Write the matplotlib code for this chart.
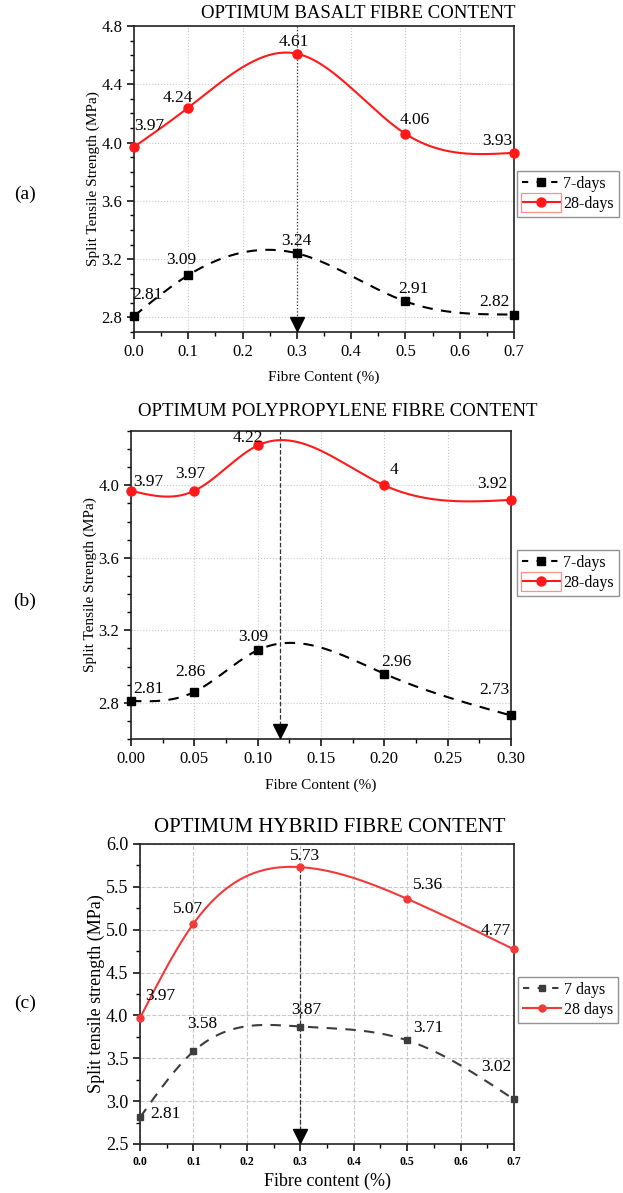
import numpy as np
import matplotlib
matplotlib.use("Agg")
import matplotlib.pyplot as plt
from matplotlib.patches import Rectangle
from matplotlib.ticker import MultipleLocator, FormatStrFormatter
from matplotlib.transforms import offset_copy

plt.rcParams["font.family"] = ["Liberation Serif", "DejaVu Serif"]

W, H, DPI = 623, 1193, 100

# ── data ─────────────────────────────────────────────────────────────────────
fibre_a = [0.0, 0.1, 0.3, 0.5, 0.7]
d7_a = [2.81, 3.09, 3.24, 2.91, 2.82]
d28_a = [3.97, 4.24, 4.61, 4.06, 3.93]

fibre_b = [0.0, 0.05, 0.10, 0.20, 0.30]
d7_b = [2.81, 2.86, 3.09, 2.96, 2.73]
d28_b = [3.97, 3.97, 4.22, 4.00, 3.92]
lbl28_b = ["3.97", "3.97", "4.22", "4", "3.92"]

fibre_c = [0.0, 0.1, 0.3, 0.5, 0.7]
d7_c = [2.81, 3.58, 3.87, 3.71, 3.02]
d28_c = [3.97, 5.07, 5.73, 5.36, 4.77]

optimum = [0.3, 0.118, 0.3]
titles = ["OPTIMUM BASALT FIBRE CONTENT",
          "OPTIMUM POLYPROPYLENE FIBRE CONTENT",
          "OPTIMUM HYBRID FIBRE CONTENT"]


def spline(x, y, num=400):
    """natural cubic spline (Origin 'Spline' connector look)"""
    x = np.asarray(x, float)
    y = np.asarray(y, float)
    n = len(x)
    h = np.diff(x)
    A = np.zeros((n, n))
    r = np.zeros(n)
    A[0, 0] = A[-1, -1] = 1
    for i in range(1, n - 1):
        A[i, i - 1] = h[i - 1]
        A[i, i] = 2 * (h[i - 1] + h[i])
        A[i, i + 1] = h[i]
        r[i] = 6 * ((y[i + 1] - y[i]) / h[i] - (y[i] - y[i - 1]) / h[i - 1])
    M = np.linalg.solve(A, r)
    xs = np.linspace(x[0], x[-1], num)
    k = np.clip(np.searchsorted(x, xs) - 1, 0, n - 2)
    hk = h[k]
    a = (x[k + 1] - xs) / hk
    b = (xs - x[k]) / hk
    ys = a * y[k] + b * y[k + 1] + ((a**3 - a) * M[k] + (b**3 - b) * M[k + 1]) * hk**2 / 6
    return xs, ys


def fig_rect(l, t, r, b):
    return [l / W, 1 - b / H, (r - l) / W, (b - t) / H]


def px(v):
    return v * 72 / DPI


def label_points(ax, xs, ys, texts, offs, fs, color="black"):
    for xv, yv, tx, (dx, dy) in zip(xs, ys, texts, offs):
        ax.annotate(tx, (xv, yv), xytext=(px(dx), px(dy)), textcoords="offset points",
                    ha="center", va="bottom", fontsize=fs, color=color, zorder=6)


fig = plt.figure(figsize=(W / DPI, H / DPI), dpi=DPI)

panels = [
    dict(box=(134, 26, 514, 332), x=fibre_a, d7=d7_a, d28=d28_a,
         l28=[f"{v:.2f}" for v in d28_a], l7=[f"{v:.2f}" for v in d7_a],
         xlim=(0, 0.7), ylim=(2.7, 4.8), xmaj=0.1, xmin=0.05, ymaj=0.4, ymin=0.1,
         xfmt="%.1f", yfmt="%.1f",
         off28=[(15, 13), (-10, 2), (-3, 4), (9, 6), (-17, 4)],
         off7=[(13, 13), (-7, 7), (0, 4), (8, 4), (-20, 5)],
         red="#ff1a1a", blk="black", grid=":", vline=":", vtop=None,
         leg=(517, 171), labels=["7-days", "28-days"], hl=True, tag="(a)", tag_y=194,
         title_x=358, title_y=14, title_fs=13.5, xl_y=377, yl_x=93,
         ylabel="Split Tensile Strength (MPa)", xlabel="Fibre Content (%)",
         lab_fs=11, tick_fs=12, xtick_fs=12, xtick_w="normal", ms=(6, 6.5)),
    dict(box=(131, 431, 511, 739), x=fibre_b, d7=d7_b, d28=d28_b,
         l28=lbl28_b, l7=[f"{v:.2f}" for v in d7_b],
         xlim=(0, 0.3), ylim=(2.6, 4.3), xmaj=0.05, xmin=0.025, ymaj=0.4, ymin=0.1,
         xfmt="%.2f", yfmt="%.1f",
         off28=[(17, 1), (-4, 9), (-10, -1), (10, 7), (-19, 8)],
         off7=[(17, 4), (-4, 12), (-4, 5), (12, 4), (-17, 17)],
         red="#ff1a1a", blk="black", grid=":", vline="--", vtop=None,
         leg=(517, 550), labels=["7-days", "28-days"], hl=True, tag="(b)", tag_y=601,
         title_x=338, title_y=412, title_fs=13.5, xl_y=785, yl_x=90,
         ylabel="Split Tensile Strength (MPa)", xlabel="Fibre Content (%)",
         lab_fs=11, tick_fs=12, xtick_fs=12, xtick_w="normal", ms=(6, 6.5)),
    dict(box=(140, 844, 514, 1144), x=fibre_c, d7=d7_c, d28=d28_c,
         l28=[f"{v:.2f}" for v in d28_c], l7=[f"{v:.2f}" for v in d7_c],
         xlim=(0, 0.7), ylim=(2.5, 6.0), xmaj=0.1, xmin=0.05, ymaj=0.5, ymin=0.25,
         xfmt="%.1f", yfmt="%.1f",
         off28=[(20, 14), (-5, 7), (5, 3), (21, 6), (-18, 10)],
         off7=[(25, -5), (9, 19), (6, 9), (21, 4), (-18, 24)],
         red="#f23a3a", blk="#3c3c3c", grid="--", vline="--", vtop=5.73,
         leg=(518, 977), labels=["7 days", "28 days"], hl=False, tag="(c)", tag_y=1003,
         title_x=330, title_y=827, title_fs=15, xl_y=1181, yl_x=96,
         ylabel="Split tensile strength (MPa)", xlabel="Fibre content (%)",
         lab_fs=13, tick_fs=13, xtick_fs=8.5, xtick_w="bold", ms=(4.5, 5)),
]

for i, p in enumerate(panels):
    l0, t0, r0, b0 = p["box"]
    ax = fig.add_axes(fig_rect(*p["box"]))
    ax.set_xlim(*p["xlim"])
    ax.set_ylim(*p["ylim"])

    xs, ys = spline(p["x"], p["d28"])
    ax.plot(xs, ys, color=p["red"], lw=1.5, zorder=3)
    ax.plot(p["x"], p["d28"], "o", color=p["red"], ms=p["ms"][1], zorder=4, clip_on=False)
    xs, ys = spline(p["x"], p["d7"])
    ax.plot(xs, ys, color=p["blk"], lw=1.5, dashes=(5, 4), zorder=3)
    ax.plot(p["x"], p["d7"], "s", color=p["blk"], ms=p["ms"][0], zorder=4, clip_on=False)

    label_points(ax, p["x"], p["d28"], p["l28"], p["off28"], 12.5)
    label_points(ax, p["x"], p["d7"], p["l7"], p["off7"], 12.5)

    # optimum marker
    xo = optimum[i]
    ytop = p["vtop"] if p["vtop"] is not None else p["ylim"][1]
    ax.plot([xo, xo], [p["ylim"][0], ytop], ls=p["vline"], color="#333333", lw=0.9, zorder=2)
    tr = offset_copy(ax.transData, fig=fig, y=6, units="points")
    ax.plot([xo], [p["ylim"][0]], "v", color="black", ms=10, transform=tr, zorder=5, clip_on=False)

    # axes styling
    ax.grid(True, ls=p["grid"], color="#c8c8c8", lw=0.8)
    ax.set_axisbelow(True)
    ax.xaxis.set_major_locator(MultipleLocator(p["xmaj"]))
    ax.xaxis.set_minor_locator(MultipleLocator(p["xmin"]))
    ax.yaxis.set_major_locator(MultipleLocator(p["ymaj"]))
    ax.yaxis.set_minor_locator(MultipleLocator(p["ymin"]))
    ax.xaxis.set_major_formatter(FormatStrFormatter(p["xfmt"]))
    ax.yaxis.set_major_formatter(FormatStrFormatter(p["yfmt"]))
    ax.tick_params(which="major", direction="out", length=5, width=1.1, labelsize=p["tick_fs"])
    ax.tick_params(which="minor", direction="out", length=3, width=1.0)
    ax.tick_params(axis="x", which="major", labelsize=p["xtick_fs"])
    for t in ax.get_xticklabels():
        t.set_fontweight(p["xtick_w"])
    ax.tick_params(top=False, right=False, which="both")
    for s in ax.spines.values():
        s.set_linewidth(1.2)
        s.set_color("#222222")

    # axis labels placed at measured pixel positions
    ax.set_ylabel(p["ylabel"], fontsize=p["lab_fs"], va="center")
    ax.yaxis.set_label_coords((p["yl_x"] - l0) / (r0 - l0), 0.5)
    ax.set_xlabel(p["xlabel"], fontsize=p["lab_fs"], va="center")
    ax.xaxis.set_label_coords(0.5, (b0 - p["xl_y"]) / (b0 - t0))

    fig.text(p["title_x"] / W, 1 - p["title_y"] / H, titles[i],
             ha="center", va="center", fontsize=p["title_fs"])
    fig.text(25 / W, 1 - p["tag_y"] / H, p["tag"], ha="center", va="center", fontsize=14)

    # legend
    h7 = plt.Line2D([], [], color=p["blk"], lw=1.5, dashes=(3, 4), marker="s", ms=p["ms"][0])
    h28 = plt.Line2D([], [], color=p["red"], lw=1.5, marker="o", ms=p["ms"][1])
    lx, ly = p["leg"]
    leg = ax.legend([h7, h28], p["labels"], loc="upper left",
                    bbox_to_anchor=(lx / W, 1 - ly / H), bbox_transform=fig.transFigure,
                    fontsize=11.5, frameon=True, fancybox=False, edgecolor="#777777",
                    handlelength=2.4, handletextpad=0.2, borderpad=0.3,
                    labelspacing=0.25, borderaxespad=0)
    leg.get_frame().set_linewidth(1.0)
    if p["hl"]:
        # pinkish selection box round the 28-days handle
        fig.patches.append(Rectangle(((lx + 4) / W, 1 - (ly + 41) / H), 40 / W, 19 / H,
                                     transform=fig.transFigure, fill=False,
                                     edgecolor="#ff9090", lw=0.9, zorder=10))

fig.savefig("out.png", dpi=DPI)
